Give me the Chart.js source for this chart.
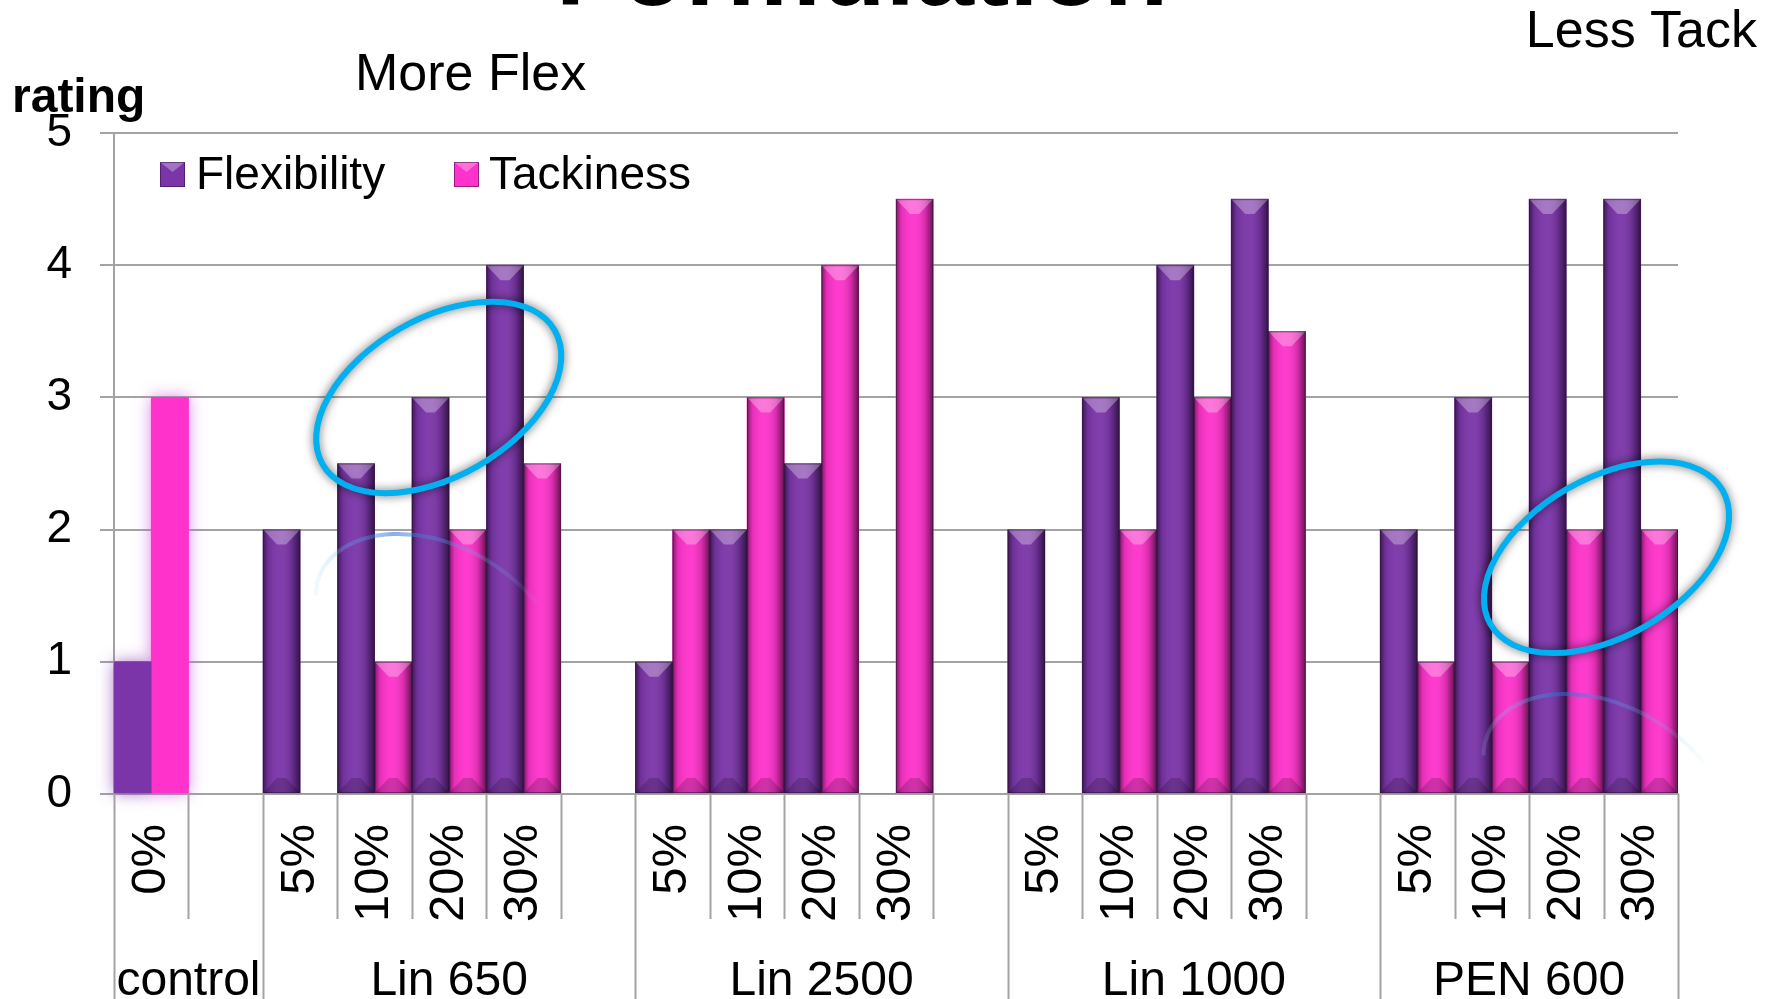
<!DOCTYPE html>
<html>
<head>
<meta charset="utf-8">
<script src="https://cdn.jsdelivr.net/npm/chart.js@4/dist/chart.umd.min.js"></script>
<style>
  html, body { margin: 0; padding: 0; background: #fff; }
  #wrap { width: 1779px; height: 999px; position: relative; }
</style>
</head>
<body>
<div id="wrap"><canvas id="myChart"></canvas></div>
<script>
// tick labels along the x axis (blank = spacer column)
const categories = ['0%', '', '5%', '10%', '20%', '30%', '', '5%', '10%', '20%', '30%', '', '5%', '10%', '20%', '30%', '', '5%', '10%', '20%', '30%'];
const groupNames = ['control', 'Lin 650', 'Lin 2500', 'Lin 1000', 'PEN 600'];
const groupSizes = [2, 5, 5, 5, 4];
const flexibility = [1, null, 2, 2.5, 3, 4, null, 1, 2, 2.5, 0, null, 2, 3, 4, 4.5, null, 2, 3, 4.5, 4.5];
const tackiness = [3, null, 0, 1, 2, 2.5, null, 2, 3, 4, 4.5, null, 0, 2, 3, 3.5, null, 1, 1, 2, 2];
const yTicks = [0, 1, 2, 3, 4, 5];

const FONT = "'Liberation Sans', Arial, sans-serif";
const PURPLE = '#7B35A9';
const PINK = '#FF33CC';
const GRID = '#a3a3a3';

// bevelled look of the bars (control column stays flat with a glow)
const bevelPlugin = {
  id: 'bevel',
  beforeDatasetsDraw(chart) {
    const ctx = chart.ctx;
    chart.data.datasets.forEach((ds, di) => {
      const el = chart.getDatasetMeta(di).data[0];
      if (!el || ds.data[0] == null) return;
      const p = el.getProps(['x', 'y', 'base', 'width'], true);
      ctx.save();
      ctx.shadowColor = di === 0 ? 'rgba(130,60,180,0.7)' : 'rgba(200,80,220,0.7)';
      ctx.shadowBlur = 16;
      ctx.fillStyle = ds.backgroundColor;
      ctx.fillRect(p.x - p.width / 2, p.y, p.width, p.base - p.y);
      ctx.restore();
    });
  },
  afterDatasetsDraw(chart) {
    const ctx = chart.ctx;
    chart.data.datasets.forEach((ds, di) => {
      chart.getDatasetMeta(di).data.forEach((el, i) => {
        if (i === 0 || !ds.data[i]) return;
        const p = el.getProps(['x', 'y', 'base', 'width'], true);
        const x0 = p.x - p.width / 2, w = p.width, top = p.y, h = p.base - p.y;
        ctx.save();
        const g = ctx.createLinearGradient(x0, 0, x0 + w, 0);
        g.addColorStop(0, 'rgba(0,0,0,0.5)');
        g.addColorStop(0.14, 'rgba(0,0,0,0.1)');
        g.addColorStop(0.45, 'rgba(255,255,255,0.04)');
        g.addColorStop(0.78, 'rgba(0,0,0,0.15)');
        g.addColorStop(1, 'rgba(0,0,0,0.6)');
        ctx.fillStyle = g;
        ctx.fillRect(x0, top, w, h);
        const bh = Math.min(15, h / 2);
        ctx.beginPath();
        ctx.moveTo(x0, top); ctx.lineTo(x0 + w, top);
        ctx.lineTo(x0 + w * 0.62, top + bh); ctx.lineTo(x0 + w * 0.38, top + bh);
        ctx.closePath();
        ctx.fillStyle = 'rgba(255,255,255,0.3)';
        ctx.fill();
        ctx.beginPath();
        ctx.moveTo(x0, top + h); ctx.lineTo(x0 + w, top + h);
        ctx.lineTo(x0 + w * 0.62, top + h - bh); ctx.lineTo(x0 + w * 0.38, top + h - bh);
        ctx.closePath();
        ctx.fillStyle = 'rgba(0,0,0,0.18)';
        ctx.fill();
        ctx.strokeStyle = 'rgba(50,15,60,0.55)';
        ctx.lineWidth = 1;
        ctx.strokeRect(x0 + 0.5, top + 0.5, w - 1, h - 1);
        ctx.restore();
      });
    });
  }
};

// blue circled highlights
const ringPlugin = {
  id: 'rings',
  afterDatasetsDraw(chart) {
    const ctx = chart.ctx, xs = chart.scales.x, ys = chart.scales.y;
    [[3.86, 3.0], [19.54, 1.79]].forEach(([xv, yv]) => {
      const cx = xs.getPixelForValue(xv), cy = ys.getPixelForValue(yv);
      ctx.save();
      ctx.translate(cx, cy);
      // faint reflection
      const rg = ctx.createLinearGradient(-125, 0, 100, 0);
      rg.addColorStop(0, 'rgba(150,220,255,0.15)');
      rg.addColorStop(0.35, 'rgba(40,110,215,0.55)');
      rg.addColorStop(1, 'rgba(150,210,255,0.05)');
      ctx.beginPath();
      ctx.moveTo(-123, 198);
      ctx.bezierCurveTo(-122, 125, 10, 105, 98, 205);
      ctx.strokeStyle = rg;
      ctx.lineWidth = 4;
      ctx.stroke();
      // ring
      ctx.beginPath();
      ctx.ellipse(0, 0, 134, 79, -30 * Math.PI / 180, 0, Math.PI * 2);
      ctx.shadowColor = 'rgba(0,0,0,0.6)';
      ctx.shadowBlur = 10;
      ctx.strokeStyle = '#00B0F0';
      ctx.lineWidth = 6;
      ctx.stroke();
      ctx.restore();
    });
  }
};

// two-level x axis, legend and free text
const textPlugin = {
  id: 'texts',
  afterDraw(chart) {
    const ctx = chart.ctx, xs = chart.scales.x, area = chart.chartArea;
    const edge = k => xs.getPixelForValue(k - 0.5);
    const H = chart.height;
    ctx.save();
    ctx.strokeStyle = GRID;
    ctx.lineWidth = 2;
    const bounds = [0];
    groupSizes.forEach(s => bounds.push(bounds[bounds.length - 1] + s));
    for (let k = 0; k <= categories.length; k++) {
      const x = Math.round(edge(k)) + 0.5;
      ctx.beginPath();
      ctx.moveTo(x, area.bottom);
      ctx.lineTo(x, bounds.includes(k) ? H : area.bottom + 125);
      ctx.stroke();
    }
    ctx.fillStyle = '#000';
    ctx.textAlign = 'center';
    ctx.textBaseline = 'alphabetic';
    ctx.font = '48px ' + FONT;
    groupNames.forEach((name, g) => {
      ctx.fillText(name, (edge(bounds[g]) + edge(bounds[g + 1])) / 2, 995);
    });

    // legend
    const items = [['Flexibility', PURPLE, 160, 196], ['Tackiness', PINK, 454, 489]];
    ctx.textAlign = 'left';
    ctx.textBaseline = 'middle';
    ctx.font = '46px ' + FONT;
    items.forEach(([label, col, mx, tx]) => {
      ctx.fillStyle = col;
      ctx.fillRect(mx, 162, 25, 25);
      ctx.fillStyle = 'rgba(255,255,255,0.3)';
      ctx.beginPath();
      ctx.moveTo(mx, 162); ctx.lineTo(mx + 25, 162); ctx.lineTo(mx + 12.5, 172); ctx.closePath();
      ctx.fill();
      ctx.strokeStyle = 'rgba(40,10,50,0.5)';
      ctx.lineWidth = 1;
      ctx.strokeRect(mx + 0.5, 162.5, 24, 24);
      ctx.fillStyle = '#000';
      ctx.fillText(label, tx, 176);
    });

    ctx.textBaseline = 'alphabetic';
    ctx.font = 'bold 48px ' + FONT;
    ctx.fillText('rating', 12, 112);
    ctx.font = '52px ' + FONT;
    ctx.fillText('More Flex', 355, 90);
    ctx.textAlign = 'right';
    ctx.font = '52px ' + FONT;
    ctx.fillText('Less Tack', 1757, 47);
    ctx.textAlign = 'center';
    ctx.font = 'bold 106px ' + FONT;
    ctx.fillText('Formulation', 862, 5);
    ctx.restore();
  }
};

const data = {
  labels: categories,
  datasets: [
    { label: 'Flexibility', data: flexibility, backgroundColor: PURPLE, borderWidth: 0 },
    { label: 'Tackiness', data: tackiness, backgroundColor: PINK, borderWidth: 0 }
  ]
};

const config = {
  type: 'bar',
  data: data,
  options: {
    responsive: true,
    maintainAspectRatio: false,
    animation: false,
    datasets: { bar: { barPercentage: 1, categoryPercentage: 1 } },
    layout: { padding: { top: 133, right: 101, left: 0, bottom: 0 } },
    scales: {
      x: {
        grid: { display: false },
        border: { display: true, color: GRID, width: 2 },
        ticks: {
          autoSkip: false, minRotation: 90, maxRotation: 90, padding: 22,
          color: '#000', font: { family: FONT, size: 49 }
        },
        afterFit(s) { s.height = 205; s.paddingLeft = 0; s.paddingRight = 0; }
      },
      y: {
        min: 0, max: 5,
        afterBuildTicks(s) { s.ticks = yTicks.map(v => ({ value: v })); },
        grid: { color: GRID, lineWidth: 2, tickLength: 14 },
        border: { display: true, color: GRID, width: 2 },
        ticks: { padding: 28, color: '#000', font: { family: FONT, size: 46 } },
        afterFit(s) { s.width = 114; s.paddingTop = 0; s.paddingBottom = 0; }
      }
    },
    plugins: {
      legend: { display: false },
      tooltip: { enabled: false }
    }
  },
  plugins: [bevelPlugin, ringPlugin, textPlugin]
};

new Chart(document.getElementById('myChart'), config);
</script>
</body>
</html>
